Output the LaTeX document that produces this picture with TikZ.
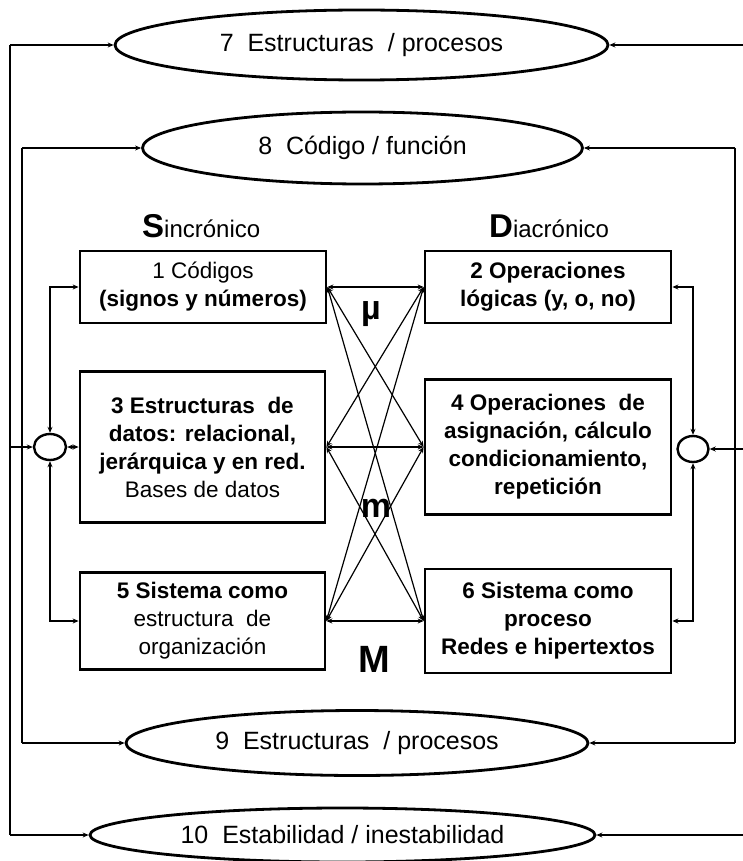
\documentclass[tikz,border=0pt]{standalone}
\usepackage{fontspec}
\setmainfont{Liberation Sans}
\usetikzlibrary{shapes.geometric,arrows.meta}
\tikzset{
  ell/.style={ellipse, draw, line width=2.8pt, inner sep=0pt, font=\fontsize{25}{28}\selectfont},
  boxn/.style={draw, line width=2.8pt, inner sep=0pt, align=center, font=\fontsize{22.5}{28}\selectfont},
  circ/.style={ellipse, draw, line width=2.4pt, inner sep=0pt, minimum width=32pt, minimum height=26pt},
  tip/.tip={Stealth[length=6pt,width=5pt]},
  conn/.style={line width=1.2pt, -tip},
  both/.style={line width=1.2pt, tip-tip},
  wire/.style={line width=1.2pt}
}
\begin{document}
\begin{tikzpicture}[x=1pt,y=-1pt]
\useasboundingbox (0,0) rectangle (743,861);
\fill[white] (0,0) rectangle (743,861);

% ellipses
\node[ell, minimum width=493pt, minimum height=70pt] (e7) at (361.5,45) {7\ \ Estructuras\ \ / procesos};
\node[ell, minimum width=440pt, minimum height=72pt] (e8) at (362.5,148) {8\ \ Código / función};
\node[ell, minimum width=462pt, minimum height=65pt] (e9) at (357,743) {9\ \ Estructuras\ \ / procesos};
\node[ell, minimum width=505pt, minimum height=54pt] (e10) at (342.5,835) {10\ \ Estabilidad / inestabilidad};

% boxes
\node[boxn, minimum width=246pt, minimum height=72pt] (b1) at (203,287) {1 Códigos\\\textbf{(signos y números)}};
\node[boxn, minimum width=246pt, minimum height=72pt] (b2) at (548,287) {\textbf{2 Operaciones}\\\textbf{lógicas (y, o, no)}};
\node[boxn, minimum width=245pt, minimum height=151pt] (b3) at (202.5,447) {\textbf{3 Estructuras\ \ de}\\\textbf{datos: relacional,}\\\textbf{jerárquica y en red.}\\Bases de datos};
\node[boxn, minimum width=246pt, minimum height=135pt] (b4) at (548,447) {\textbf{4 Operaciones\ \ de}\\\textbf{asignación, cálculo}\\\textbf{condicionamiento,}\\\textbf{repetición}};
\node[boxn, minimum width=245pt, minimum height=97pt] (b5) at (202.5,621) {\textbf{5 Sistema como}\\estructura\ \ de\\organización};
\node[boxn, minimum width=246pt, minimum height=104pt] (b6) at (548,621) {\textbf{6 Sistema como}\\\textbf{proceso}\\\textbf{Redes e hipertextos}};

% headings and letters
\node[anchor=base west, inner sep=0pt] (sin) at (142,237) {\fontsize{33}{33}\selectfont\bfseries S\fontsize{24}{24}\selectfont\mdseries incrónico};
\node[anchor=base west, inner sep=0pt] (dia) at (489,237) {\fontsize{33}{33}\selectfont\bfseries D\fontsize{24}{24}\selectfont\mdseries iacrónico};
\node[inner sep=0pt, font=\fontsize{34}{34}\selectfont\bfseries] (mu) at (371,314) {µ};
\node[inner sep=0pt, font=\fontsize{34}{34}\selectfont\bfseries] (sm) at (376,508) {m};
\node[inner sep=0pt, font=\fontsize{38}{38}\selectfont\bfseries] (bm) at (374,659) {M};

% circles
\node[circ] (lc) at (50,447) {};
\node[circ, minimum width=31pt] (rc) at (693,449) {};

% outer frame coordinates
\coordinate (lo7) at (10,45);
\coordinate (lo10) at (10,835);
\coordinate (loc) at (10,447);
\coordinate (li8) at (22,148);
\coordinate (li9) at (22,743);
\coordinate (ro7) at (743,45);
\coordinate (ro10) at (743,835);
\coordinate (roc) at (743,449);
\coordinate (ri8) at (735,148);
\coordinate (ri9) at (735,743);

\draw[wire] (lo7) -- (lo10);
\draw[wire] (li8) -- (li9);
\draw[wire] (ri8) -- (ri9);
\draw[conn] (lo7) -- (e7.west);
\draw[conn] (lo10) -- (e10.west);
\draw[conn] (li8) -- (e8.west);
\draw[conn] (li9) -- (e9.west);
\draw[conn] (ro7) -- (e7.east);
\draw[conn] (ro10) -- (e10.east);
\draw[conn] (ri8) -- (e8.east);
\draw[conn] (ri9) -- (e9.east);
\draw[conn, line width=1.8pt] (loc) -- (lc.west);
\draw[conn, line width=1.8pt] (roc) -- (rc.east);

% circle to boxes
\draw[both] (lc.north) |- (b1.west);
\draw[both] (lc.south) |- (b5.west);
\draw[both] (lc.east) -- (b3.west);
\draw[both] (rc.north) |- (b2.east);
\draw[both] (rc.south) |- (b6.east);

% crossing connectors
\foreach \l in {b1,b3,b5}{
  \foreach \r in {b2,b4,b6}{
    \draw[both] (\l.east) -- (\r.west);
  }
}
\end{tikzpicture}
\end{document}
